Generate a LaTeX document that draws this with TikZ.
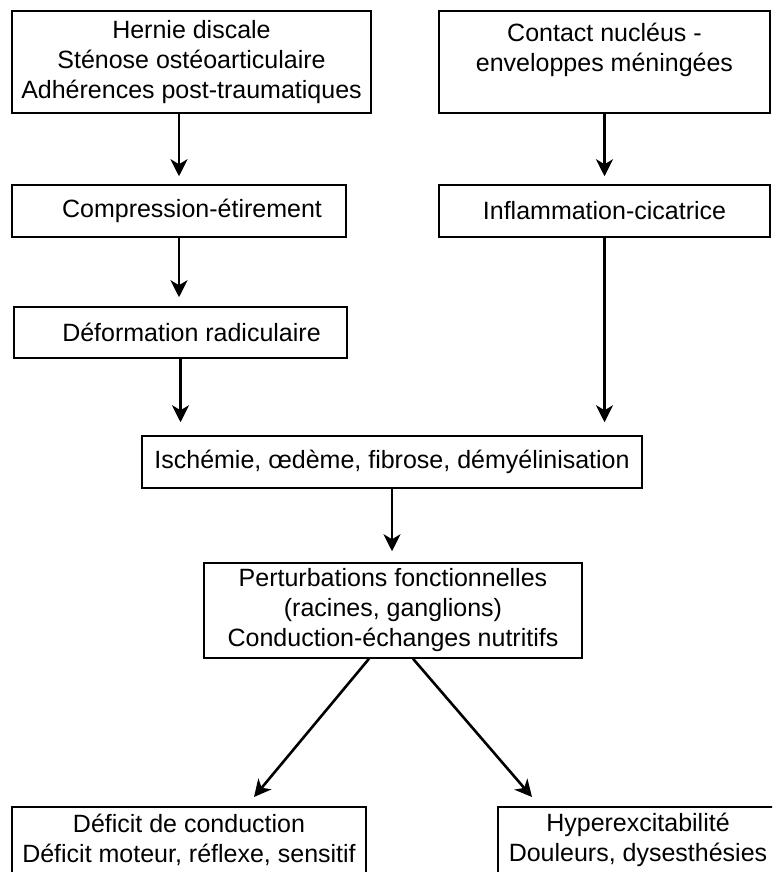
\documentclass[tikz,border=0pt]{standalone}
\usepackage{fontspec}
\setmainfont{Liberation Sans}
\usepackage{tikz}
\usetikzlibrary{arrows.meta,positioning,calc}
\tikzset{
  box/.style={draw,line width=1.5pt,align=center,inner sep=0pt,font=\fontsize{25}{30}\selectfont},
  arr/.style={-{Stealth[length=17pt,width=17pt,inset=5pt]},line width=2.6pt}
}
\begin{document}
\begin{tikzpicture}[x=1pt,y=-1pt]
\clip (0,0) rectangle (772,872);
% left column
\node[box,minimum width=359pt,minimum height=102pt] (hern) at (191.5,62) {Hernie discale\\Sténose ostéoarticulaire\\Adhérences post-traumatiques};
\node[box,minimum width=334pt,minimum height=52pt] (comp) at (179,211) {\hspace*{26pt}Compression-étirement};
\node[box,minimum width=333pt,minimum height=51pt] (defo) at (180.5,332.5) {\hspace*{22pt}Déformation radiculaire};
% right column
\node[box,minimum width=331pt,minimum height=102pt] (cont) at (604.5,62) {Contact nucléus -\\enveloppes méningées\\~};
\node[box,minimum width=331pt,minimum height=52pt] (infl) at (604.5,211) {Inflammation-cicatrice};
% centre
\node[box,minimum width=500pt,minimum height=52pt] (isch) at (392,462) {Ischémie, œdème, fibrose, démyélinisation};
\node[box,minimum width=378pt,minimum height=95pt] (pert) at (393,610.5) {Perturbations fonctionnelles\\(racines, ganglions)\\Conduction-échanges nutritifs};
% consequences
\node[box,minimum width=354pt,minimum height=66pt] (defi) at (189,840) {Déficit de conduction\\Déficit moteur, réflexe, sensitif};
\node[box,minimum width=280pt,minimum height=66pt] (hype) at (638,840) {Hyperexcitabilité\\Douleurs, dysesthésies};
\coordinate (tl) at (254,797);
\coordinate (tr) at (532,797);
\draw[arr,shorten >=8pt] (hern.south -| comp) -- (comp.north);
\draw[arr,shorten >=9pt] (comp.south) -- (comp.south |- defo.north);
\draw[arr,shorten >=13pt] (defo.south) -- (defo.south |- isch.north);
\draw[arr,shorten >=8pt] (cont.south) -- (cont.south |- infl.north);
\draw[arr,shorten >=13pt] (infl.south) -- (infl.south |- isch.north);
\draw[arr,shorten >=11pt] (isch.south) -- (isch.south |- pert.north);
\draw[arr] ($(pert.south)+(-24,0)$) -- (tl);
\draw[arr] ($(pert.south)+(20,0)$) -- (tr);
\end{tikzpicture}
\end{document}
